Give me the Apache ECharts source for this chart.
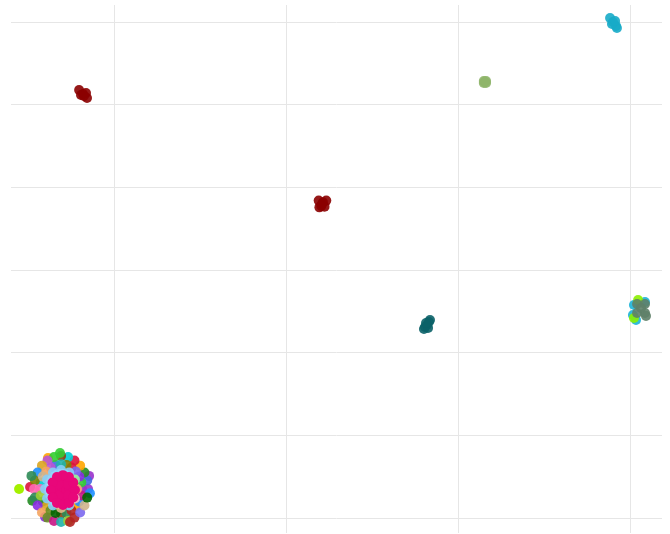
<!DOCTYPE html>
<html>
<head>
<meta charset="utf-8">
<script src="https://cdn.jsdelivr.net/npm/echarts@6/dist/echarts.min.js"></script>
<style>html,body{margin:0;padding:0;background:#fff;}#main{width:670px;height:534px;}</style>
</head>
<body>
<div id="main"></div>
<script>
// ---- data (value space) ----
const xRange = [-25.99, 11.86];
const yRange = [-31.81, 32.06];

const darkRedA = [[-22.03,21.77],[-21.80,21.29],[-21.57,20.81],[-21.92,21.17],[-21.63,21.41],[-21.75,21.05]];
const darkRedB = [[-8.10,8.40],[-7.66,8.40],[-8.06,7.58],[-7.76,7.66],[-7.91,7.98],[-7.85,8.20],[-7.95,7.75]];
const sageGreen = [[1.50,22.86],[1.63,22.86],[1.50,22.62],[1.63,22.62],[1.57,22.74]];
const skyCyan = [[8.84,30.48],[9.01,30.0],[9.19,29.51],[9.24,29.27],[8.95,29.76],[9.13,30.12]];
const darkTeal = [[-1.92,-6.89],[-1.63,-6.05],[-1.80,-6.65],[-1.98,-7.14],[-1.74,-7.02],[-1.69,-6.29],[-1.86,-6.40]];
const rightCyan = [[10.23,-4.23],[10.17,-5.44],[10.35,-6.05],[10.87,-3.87]];
const rightLime = [[10.47,-3.63],[10.23,-5.81]];
const rightGray = [[10.41,-4.11],[10.87,-4.11],[10.41,-5.20],[10.87,-5.20],[10.64,-4.60],[10.93,-5.56]];
const loneLime = [[-25.52,-26.49]];

// ring series around the big bottom-left cluster
const ringColors = ['#9932cc','#4169e1','#228b22','#ffa500','#dc143c','#00ced1','#8b4513','#32cd32',
  '#ba55d3','#daa520','#1e90ff','#808000','#ff69b4','#2e8b57','#8a2be2','#f4a460',
  '#6b8e23','#c71585','#20b2aa','#9acd32','#b22222','#7b68ee','#d2b48c','#006400'];
const ringData = [
  [[-21.51,-26.49],[-21.86,-26.49],[-21.45,-24.9]],
  [[-21.56,-25.45],[-23.40,-23.59]],
  [[-21.72,-24.49],[-24.14,-27.99],[-24.75,-27.9]],
  [[-21.97,-23.66],[-22.22,-28.61],[-23.84,-22.74]],
  [[-22.30,-23.03],[-22.47,-23.89],[-24.88,-26.25]],
  [[-22.67,-22.63],[-24.26,-25.71]],
  [[-23.08,-22.49],[-23.08,-29.49]],
  [[-23.49,-22.63],[-21.90,-25.71],[-23.14,-22.14]],
  [[-23.87,-23.03],[-23.69,-23.89]],
  [[-24.19,-23.66],[-23.94,-28.61]],
  [[-24.44,-24.49],[-22.02,-27.99],[-21.40,-27.0]],
  [[-24.60,-25.45],[-22.76,-23.59]],
  [[-24.65,-26.49],[-24.30,-26.49]],
  [[-24.60,-27.53],[-22.76,-29.39],[-24.80,-24.9]],
  [[-24.44,-28.49],[-22.02,-24.99],[-24.01,-29.88]],
  [[-24.19,-29.32],[-23.94,-24.37]],
  [[-23.87,-29.95],[-23.69,-29.09]],
  [[-23.49,-30.35],[-21.90,-27.27]],
  [[-23.08,-30.49],[-23.08,-23.49]],
  [[-22.67,-30.35],[-24.26,-27.27]],
  [[-22.30,-29.95],[-22.47,-29.09],[-22.56,-30.48]],
  [[-21.97,-29.32],[-22.22,-24.37]],
  [[-21.72,-28.49],[-24.14,-24.99]],
  [[-21.56,-27.53],[-23.40,-29.39]]
];
const innerBlue = [[-22.61,-24.50],[-23.08,-24.19],[-23.55,-24.50],[-23.89,-25.34],[-24.01,-26.49],[-23.89,-27.64],[-23.55,-28.48],[-22.61,-28.48]];
const innerSalmon = [[-22.15,-26.49]];
const innerPaleGreen = [[-22.27,-25.34]];
const innerTan = [[-23.08,-28.79]];
const innerPink = [[-22.27,-27.64]];
const pinkCore = [[-22.97,-26.61],[-22.6,-26.61],[-23.34,-26.61],[-22.97,-25.64],[-22.97,-27.58],
  [-22.7,-25.9],[-23.24,-25.9],[-22.7,-27.3],[-23.24,-27.3],
  [-22.27,-26.61],[-22.37,-25.71],[-22.62,-25.05],[-22.97,-24.81],[-23.32,-25.05],[-23.57,-25.71],
  [-23.67,-26.61],[-23.57,-27.51],[-23.32,-28.17],[-22.97,-28.41],[-22.62,-28.17],[-22.37,-27.51]];

// ---- build ----
function sc(name, color, data, opacity) {
  return {type:'scatter', name:name, data:data, symbolSize:10,
    itemStyle:{color:color, opacity: opacity == null ? 0.9 : opacity}};
}
const series = [];
ringData.forEach((d,i)=>series.push(sc('ring'+i, ringColors[i], d)));
series.push(sc('innerBlue','#87cefa',innerBlue));
series.push(sc('innerSalmon','#ffa07a',innerSalmon));
series.push(sc('innerPaleGreen','#98fb98',innerPaleGreen));
series.push(sc('innerTan','#deb887',innerTan));
series.push(sc('innerPink','#ffb6c1',innerPink));
series.push(sc('pinkCore','#e8077a',pinkCore,1));
series.push(sc('loneLime','#a4f000',loneLime,1));
series.push(sc('darkRedA','#8b0000',darkRedA));
series.push(sc('darkRedB','#8b0000',darkRedB));
series.push(sc('sageGreen','#8fb56a',sageGreen));
series.push(sc('skyCyan','#17abc8',skyCyan));
series.push(sc('darkTeal','#0b6268',darkTeal));
series.push(sc('rightCyan','#1cb4d8',rightCyan));
series.push(sc('rightLime','#8cf000',rightLime));
series.push(sc('rightGray','#5e8068',rightGray));

const axisCommon = {
  type:'value',
  axisLine:{show:false}, axisTick:{show:false}, axisLabel:{show:false},
  splitLine:{show:true, showMinLine:false, showMaxLine:false, lineStyle:{color:'#e6e6e6', width:1}}
};
const chart = echarts.init(document.getElementById('main'), null, {renderer:'canvas'});
chart.setOption({
  animation:false,
  backgroundColor:'#ffffff',
  grid:{left:11, right:8, top:5, bottom:1, containLabel:false},
  xAxis:Object.assign({min:xRange[0], max:xRange[1]}, axisCommon),
  yAxis:Object.assign({min:yRange[0], max:yRange[1]}, axisCommon),
  series:series
});
</script>
</body>
</html>
